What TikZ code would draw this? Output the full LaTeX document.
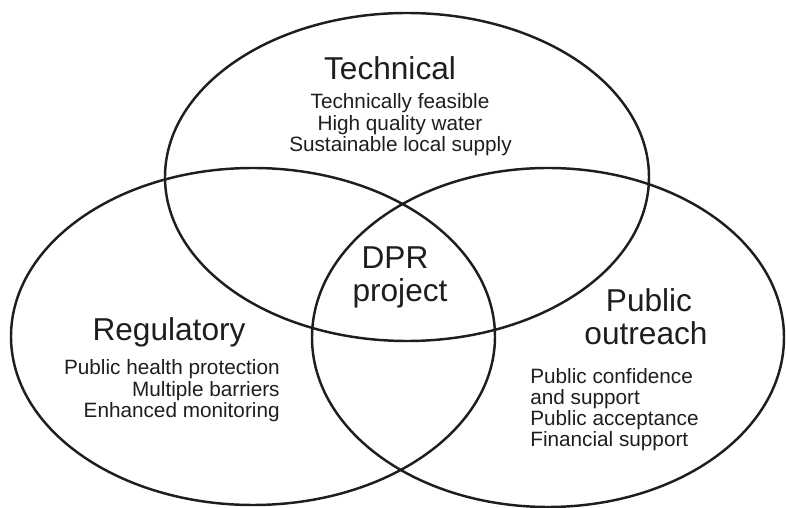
\documentclass[tikz,border=0pt]{standalone}
\usepackage{fontspec}
\setmainfont{Liberation Sans}
\newfontfamily\itemfont{Liberation Sans}
\definecolor{inkgray}{HTML}{1E1E1E}
\tikzset{
  ring/.style={draw=inkgray, line width=1.4pt},
  heading/.style={inner sep=0, text=inkgray, font=\fontsize{18}{18}\selectfont},
  itemtext/.style={inner sep=0, text=inkgray, font=\itemfont\fontsize{11.8}{12}\selectfont}
}

\begin{document}
\begin{tikzpicture}
      \useasboundingbox (0,0) rectangle (15.72,10.16);

      \draw [ring] (8.14,6.62) ellipse (4.84 and 3.28);
      \draw [ring] (5.06,3.43) ellipse (4.84 and 3.37);
      \draw [ring] (10.96,3.41) ellipse (4.72 and 3.39);

      \node [heading, anchor=base] (tech) at (7.80,8.56) {Technical};
      \node [itemtext, anchor=base] (tech1) at (8.00,7.99) {Technically feasible};
      \node [itemtext, anchor=base] (tech2) at (8.00,7.55) {High quality water};
      \node [itemtext, anchor=base] (tech3) at (8.01,7.13) {Sustainable local supply};

      \node [heading, anchor=base] (dpr) at (7.90,4.78) {DPR};
      \node [heading, anchor=base] (proj) at (8.00,4.12) {project};

      \node [heading, anchor=base] (reg) at (3.38,3.34) {Regulatory};
      \node [itemtext, anchor=base east] (reg1) at (5.60,2.66) {Public health protection};
      \node [itemtext, anchor=base east] (reg2) at (5.60,2.22) {Multiple barriers};
      \node [itemtext, anchor=base east] (reg3) at (5.60,1.80) {Enhanced monitoring};

      \node [heading, anchor=base] (pub) at (12.98,3.92) {Public};
      \node [heading, anchor=base] (outr) at (12.92,3.26) {outreach};
      \node [itemtext, anchor=base west] (pub1) at (10.60,2.48) {Public confidence};
      \node [itemtext, anchor=base west] (pub2) at (10.60,2.06) {and support};
      \node [itemtext, anchor=base west] (pub3) at (10.60,1.64) {Public acceptance};
      \node [itemtext, anchor=base west] (pub4) at (10.60,1.22) {Financial support};
    \end{tikzpicture}
\end{document}
